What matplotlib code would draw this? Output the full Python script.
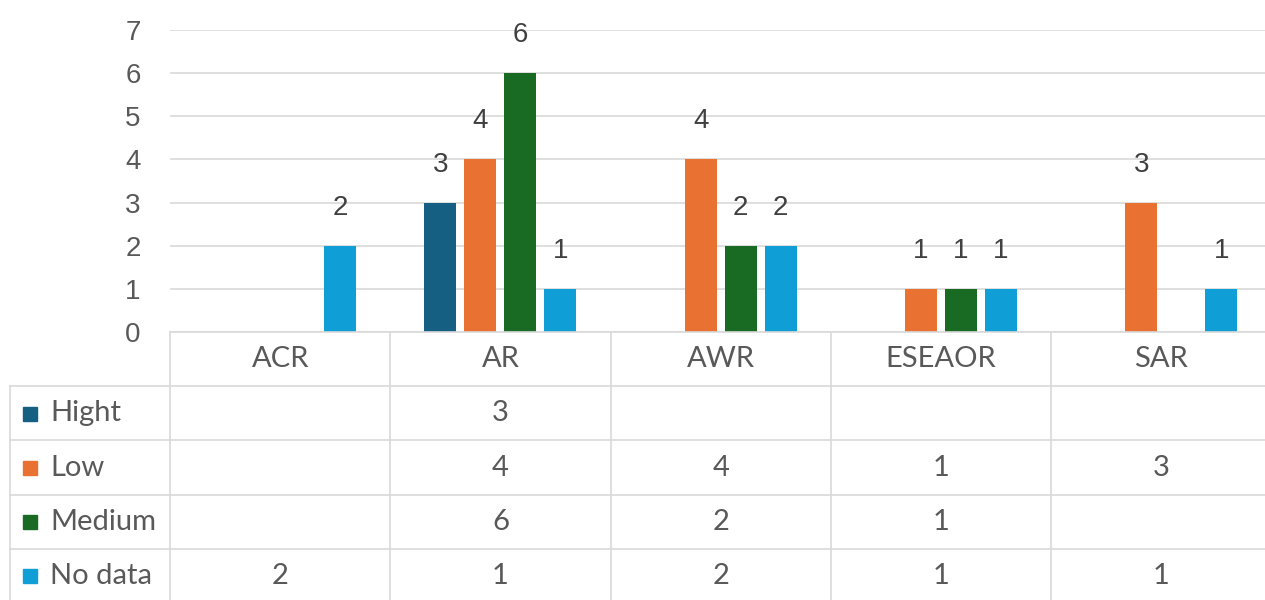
import numpy as np
import matplotlib.pyplot as plt
from matplotlib.patches import Rectangle

# Дані
categories = ["ACR", "AR", "AWR", "ESEAOR", "SAR"]
series = ["Hight", "Low", "Medium", "No data"]
hight = [None, 3, None, None, None]
low = [None, 4, 4, 1, 3]
medium = [None, 6, 2, 1, None]
no_data = [2, 1, 2, 1, 1]
values = [hight, low, medium, no_data]
colors = ["#156082", "#E97132", "#196B24", "#0F9ED5"]

grid_color = "#D9D9D9"
text_color = "#595959"
label_color = "#404040"
fs = 20

W, H = 1265, 600
fig = plt.figure(figsize=(W / 100, H / 100), dpi=100)

col_px = 220.3
x_left = 170 / W
ax_w = len(categories) * col_px / W
ax = fig.add_axes([x_left, 1 - 332 / H, ax_w, (332 - 30) / H])
x = np.arange(len(categories))
bar_w = 32 / col_px
step = 40 / col_px

for i, (name, vals, c) in enumerate(zip(series, values, colors)):
    pos = x + (i - 1.5) * step
    h = [np.nan if v is None else v for v in vals]
    bars = ax.bar(pos, h, width=bar_w, color=c, zorder=3)
    labels = ["" if v is None else str(v) for v in vals]
    ax.bar_label(bars, labels=labels, padding=18, fontsize=fs,
                 color=label_color, family="Liberation Sans")

ax.set_xlim(-0.5, len(categories) - 0.5)
ax.set_ylim(0, 7)
ax.set_yticks(range(0, 8))
ax.set_xticks([])
ax.tick_params(axis="y", length=0, pad=21, labelsize=fs, labelcolor=text_color)
for t in ax.get_yticklabels():
    t.set_family("Liberation Sans")
ax.grid(axis="y", color=grid_color, linewidth=1.2, zorder=0)
for s in ax.spines.values():
    s.set_visible(False)

# Таблиця даних під графіком
tab_h = 1 - 332 / H
tab = fig.add_axes([x_left, 0, ax_w, tab_h])
tab.set_xlim(-0.5, len(categories) - 0.5)
row_h = 54.2
bottom = tab_h * H / row_h
tab.set_ylim(bottom, 0)
tab.axis("off")

n_rows = len(series) + 1
left_edge = -0.5 - 160 / col_px
line_kw = dict(color=grid_color, linewidth=1.2, clip_on=False)
# горизонтальні лінії
tab.plot([-0.5, len(categories) - 0.5], [0, 0], **line_kw)
for r in range(1, n_rows):
    tab.plot([left_edge, len(categories) - 0.5], [r, r], **line_kw)
# вертикальні лінії
for c in range(len(categories)):
    tab.plot([c - 0.5, c - 0.5], [0, bottom], **line_kw)
tab.plot([left_edge, left_edge], [1, bottom], **line_kw)

for c, cat in enumerate(categories):
    tab.text(c, 0.5, cat, ha="center", va="center", fontsize=fs + 1,
             color=text_color, family="Lato")

for r, (name, vals, col) in enumerate(zip(series, values, colors), start=1):
    tab.add_patch(Rectangle((left_edge + 13 / col_px, r + 0.5 - 0.12), 14 / col_px, 0.26,
                            color=col, clip_on=False))
    tab.text(left_edge + 40 / col_px, r + 0.5, name, ha="left", va="center",
             fontsize=fs + 1, color=text_color, family="Lato")
    for c, v in enumerate(vals):
        if v is not None:
            tab.text(c, r + 0.5, str(v), ha="center", va="center", fontsize=fs + 1,
                     color=text_color, family="Lato")

fig.savefig("out.png", dpi=100)
